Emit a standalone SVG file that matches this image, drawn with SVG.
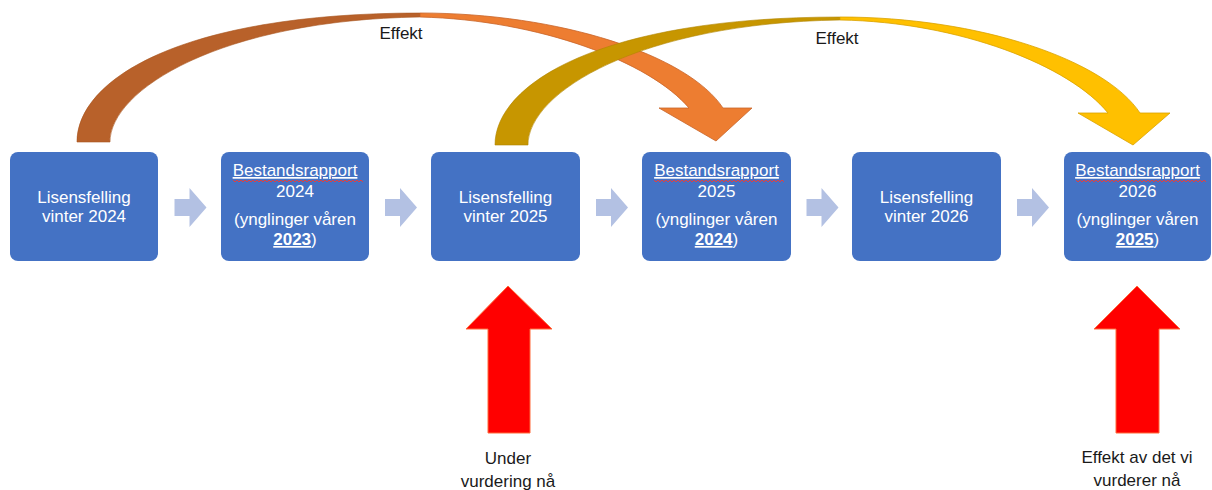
<svg xmlns="http://www.w3.org/2000/svg" width="1212" height="490" viewBox="0 0 1212 490">
<style>
.box{fill:#4472C4}
.bt{font-family:"Liberation Sans",Arial,sans-serif;font-size:17px;fill:#fff;text-anchor:middle}
.lbl{font-family:"Liberation Sans",Arial,sans-serif;font-size:17px;fill:#1a1a1a;text-anchor:middle}
.ul{text-decoration:underline}
.sq{fill:none;stroke:#E04040;stroke-width:1}
.pa{fill:#B3C1E3}
.red{fill:#FF0000;stroke:#FF6A3A;stroke-width:1}
</style>
<defs>
<path id="pa" d="M-15,-8 H0 V-19 L17,0.5 L0,20 V9 H-15 Z"/>
<path id="sqz" d="M0,0 l2,2 l2,-2 l2,2 l2,-2 l2,2 l2,-2 l2,2 l2,-2 l2,2 l2,-2 l2,2 l2,-2 l2,2 l2,-2 l2,2 l2,-2 l2,2 l2,-2 l2,2 l2,-2 l2,2 l2,-2 l2,2 l2,-2 l2,2 l2,-2 l2,2 l2,-2 l2,2 l2,-2 l2,2 l2,-2 l2,2 l2,-2 l2,2 l2,-2 l2,2 l2,-2 l2,2 l2,-2 l2,2 l2,-2 l2,2 l2,-2 l2,2 l2,-2 l2,2 l2,-2 l2,2 l2,-2 l2,2 l2,-2 l2,2 l2,-2 l2,2 l2,-2 l2,2 l2,-2 l2,2 l2,-2 l2,2 l2,-2 l2,2 l2,-2 l2,2"/>
</defs>

<g id="connectors">
  <g id="flow-arrows" class="pa">
    <use href="#pa" x="189.5" y="207"/>
    <use href="#pa" x="400" y="207"/>
    <use href="#pa" x="611" y="207"/>
    <use href="#pa" x="821.5" y="207"/>
    <use href="#pa" x="1032" y="207"/>
  </g>
  <g id="effect-arrow-1">
    <path d="M77,142 C77,80 180,13 420,13 L420,17 C220,20 110,90 110,142 Z" fill="#B8612A" stroke="#A85620" stroke-width="0.6"/>
    <path d="M420,13 C560,13 688,55 723,108 L752,108 L716,141 L659,108 L689,108 C650,62 540,20 420,17 Z" fill="#ED7D31" stroke="#C8652A" stroke-width="0.8"/>
  </g>
  <g id="effect-arrow-2">
    <path d="M495,145 C495,84 600,17 840,17 L840,20 C640,23 528,92 528,145 Z" fill="#C79600" stroke="#B08400" stroke-width="0.6"/>
    <path d="M840,17 C980,17 1105,60 1140,113 L1170,113 L1133,145 L1078,113 L1108,113 C1070,66 960,22 840,20 Z" fill="#FFC000" stroke="#D9A200" stroke-width="0.8"/>
  </g>
  <text class="lbl" x="401" y="39">Effekt</text>
  <text class="lbl" x="837" y="44">Effekt</text>
  <g id="red-arrow-1"><path class="red" d="M508,286 L552,329 L530,329 L530,433 L488,433 L488,329 L466,329 Z"/></g>
  <g id="red-arrow-2"><path class="red" d="M1137,286 L1180,329 L1159,329 L1159,433 L1116,433 L1116,329 L1094,329 Z"/></g>
</g>

<g id="node1">
  <rect class="box" x="10" y="152" width="148" height="109" rx="8"/>
  <text class="bt" x="84" y="203">Lisensfelling</text>
  <text class="bt" x="84" y="222">vinter 2024</text>
</g>
<g id="node2">
  <rect class="box" x="221" y="152" width="148" height="109" rx="8"/>
  <text class="bt ul" x="295" y="176">Bestandsrapport</text>
  <use class="sq" href="#sqz" x="233" y="180"/>
  <text class="bt" x="295" y="197">2024</text>
  <text class="bt" x="295" y="225">(ynglinger våren</text>
  <text class="bt" x="295" y="245"><tspan font-weight="bold" class="ul">2023</tspan>)</text>
</g>
<g id="node3">
  <rect class="box" x="431" y="152" width="149" height="109" rx="8"/>
  <text class="bt" x="505.5" y="203">Lisensfelling</text>
  <text class="bt" x="505.5" y="222">vinter 2025</text>
</g>
<g id="node4">
  <rect class="box" x="642" y="152" width="149" height="109" rx="8"/>
  <text class="bt ul" x="716.5" y="176">Bestandsrapport</text>
  <use class="sq" href="#sqz" x="654" y="180"/>
  <text class="bt" x="716.5" y="197">2025</text>
  <text class="bt" x="716.5" y="225">(ynglinger våren</text>
  <text class="bt" x="716.5" y="245"><tspan font-weight="bold" class="ul">2024</tspan>)</text>
</g>
<g id="node5">
  <rect class="box" x="852" y="152" width="149" height="109" rx="8"/>
  <text class="bt" x="926.5" y="203">Lisensfelling</text>
  <text class="bt" x="926.5" y="222">vinter 2026</text>
</g>
<g id="node6">
  <rect class="box" x="1064" y="152" width="147" height="109" rx="8"/>
  <text class="bt ul" x="1137.5" y="176">Bestandsrapport</text>
  <use class="sq" href="#sqz" x="1076" y="180"/>
  <text class="bt" x="1137.5" y="197">2026</text>
  <text class="bt" x="1137.5" y="225">(ynglinger våren</text>
  <text class="bt" x="1137.5" y="245"><tspan font-weight="bold" class="ul">2025</tspan>)</text>
</g>

<g id="label1">
  <text class="lbl" x="508" y="464">Under</text>
  <text class="lbl" x="508" y="487">vurdering nå</text>
</g>
<g id="label2">
  <text class="lbl" x="1137" y="463">Effekt av det vi</text>
  <text class="lbl" x="1137" y="486">vurderer nå</text>
</g>
</svg>
